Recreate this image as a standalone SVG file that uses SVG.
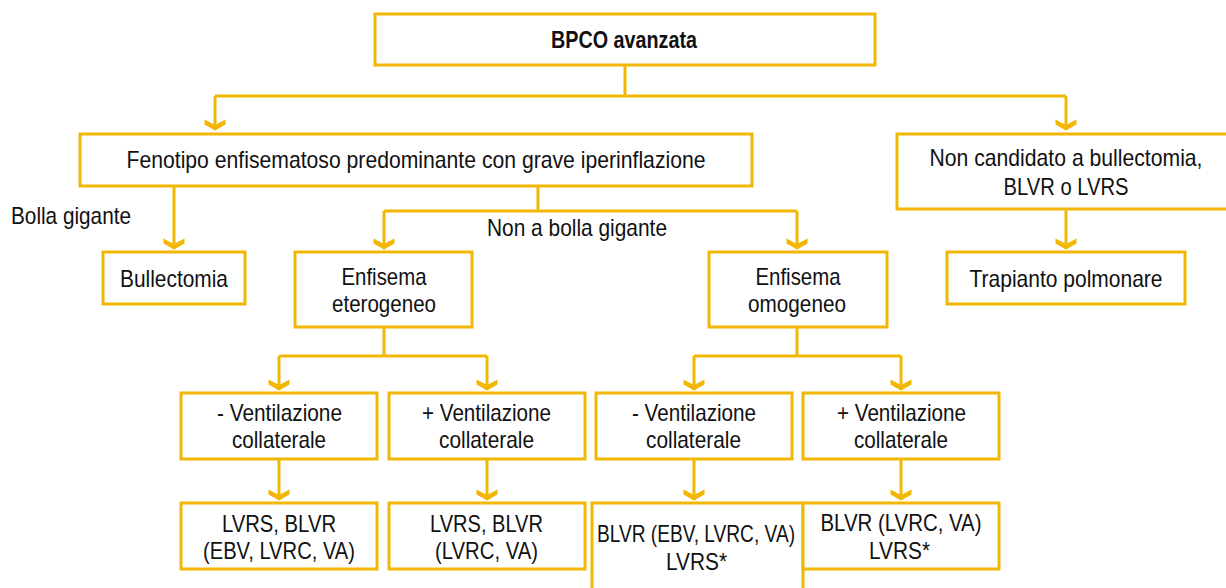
<svg xmlns="http://www.w3.org/2000/svg" width="1226" height="588" viewBox="0 0 1226 588">
<style>
.box{fill:#fff;stroke:#F2B705;stroke-width:3}
.ln{fill:none;stroke:#F2B705;stroke-width:3}
text{font-family:"Liberation Sans",Arial,sans-serif;font-size:24px;fill:#111}
.c{text-anchor:middle}
.b{font-weight:bold;font-size:24px}
</style>
<defs>
<marker id="ah" viewBox="-11 -11 22 12" markerWidth="22" markerHeight="12" refX="0" refY="0" orient="0" markerUnits="userSpaceOnUse">
<path d="M-10.5,-10.5 L0,-5 L10.5,-10.5 L10.5,-5.5 L0,0.5 L-10.5,-5.5 Z" fill="#F2B705"/>
</marker>
</defs>
<rect width="1226" height="588" fill="#fff"/>
<g id="connectors">
<path class="ln" d="M625,65 V96 M215,96 H1066"/>
<path class="ln" d="M215,96 V130" marker-end="url(#ah)"/>
<path class="ln" d="M1066,96 V130" marker-end="url(#ah)"/>
<path class="ln" d="M174,186 V249" marker-end="url(#ah)"/>
<path class="ln" d="M538,186 V211 M384,211 H797"/>
<path class="ln" d="M384,211 V249" marker-end="url(#ah)"/>
<path class="ln" d="M797,211 V249" marker-end="url(#ah)"/>
<path class="ln" d="M1066,209 V249" marker-end="url(#ah)"/>
<path class="ln" d="M384,327 V356 M279,356 H487"/>
<path class="ln" d="M279,356 V390" marker-end="url(#ah)"/>
<path class="ln" d="M487,356 V390" marker-end="url(#ah)"/>
<path class="ln" d="M797,327 V356 M694,356 H901"/>
<path class="ln" d="M694,356 V390" marker-end="url(#ah)"/>
<path class="ln" d="M901,356 V390" marker-end="url(#ah)"/>
<path class="ln" d="M279,459 V500" marker-end="url(#ah)"/>
<path class="ln" d="M487,459 V500" marker-end="url(#ah)"/>
<path class="ln" d="M694,459 V500" marker-end="url(#ah)"/>
<path class="ln" d="M901,459 V500" marker-end="url(#ah)"/>
</g>
<g id="n-bpco">
<rect class="box" x="375" y="14" width="500" height="51"/>
<text class="c b" x="624" y="48" textLength="146" lengthAdjust="spacingAndGlyphs">BPCO avanzata</text>
</g>
<g id="n-fenotipo">
<rect class="box" x="80" y="134" width="672" height="52"/>
<text class="c" x="416" y="168" textLength="579" lengthAdjust="spacingAndGlyphs">Fenotipo enfisematoso predominante con grave iperinflazione</text>
</g>
<g id="n-noncandidato">
<path class="box" d="M1226,134 H897 V209 H1226"/>
<text class="c" x="1066" y="166" textLength="273" lengthAdjust="spacingAndGlyphs">Non candidato a bullectomia,</text>
<text class="c" x="1066" y="195" textLength="125" lengthAdjust="spacingAndGlyphs">BLVR o LVRS</text>
</g>
<g id="l-bolla">
<text x="11" y="224" textLength="120" lengthAdjust="spacingAndGlyphs">Bolla gigante</text>
</g>
<g id="l-nonbolla">
<text x="487" y="236" textLength="180" lengthAdjust="spacingAndGlyphs">Non a bolla gigante</text>
</g>
<g id="n-bullectomia">
<rect class="box" x="103" y="252" width="142" height="52"/>
<text class="c" x="174" y="287" textLength="108" lengthAdjust="spacingAndGlyphs">Bullectomia</text>
</g>
<g id="n-eterogeneo">
<rect class="box" x="295" y="252" width="177" height="75"/>
<text class="c" x="384" y="285" textLength="85" lengthAdjust="spacingAndGlyphs">Enfisema</text>
<text class="c" x="384" y="312" textLength="104" lengthAdjust="spacingAndGlyphs">eterogeneo</text>
</g>
<g id="n-omogeneo">
<rect class="box" x="709" y="252" width="178" height="75"/>
<text class="c" x="798" y="285" textLength="85" lengthAdjust="spacingAndGlyphs">Enfisema</text>
<text class="c" x="797" y="312" textLength="98" lengthAdjust="spacingAndGlyphs">omogeneo</text>
</g>
<g id="n-trapianto">
<rect class="box" x="947" y="252" width="238" height="52"/>
<text class="c" x="1066" y="287" textLength="193" lengthAdjust="spacingAndGlyphs">Trapianto polmonare</text>
</g>
<g id="n-et-neg">
<rect class="box" x="181" y="393" width="196" height="66"/>
<text class="c" x="279.5" y="421" textLength="125" lengthAdjust="spacingAndGlyphs">- Ventilazione</text>
<text class="c" x="279" y="448" textLength="94" lengthAdjust="spacingAndGlyphs">collaterale</text>
</g>
<g id="n-et-pos">
<rect class="box" x="389" y="393" width="196" height="66"/>
<text class="c" x="486.5" y="421" textLength="129" lengthAdjust="spacingAndGlyphs">+ Ventilazione</text>
<text class="c" x="486.5" y="448" textLength="95" lengthAdjust="spacingAndGlyphs">collaterale</text>
</g>
<g id="n-om-neg">
<rect class="box" x="596" y="393" width="196" height="66"/>
<text class="c" x="694" y="421" textLength="124" lengthAdjust="spacingAndGlyphs">- Ventilazione</text>
<text class="c" x="693.5" y="448" textLength="95" lengthAdjust="spacingAndGlyphs">collaterale</text>
</g>
<g id="n-om-pos">
<rect class="box" x="803" y="393" width="196" height="66"/>
<text class="c" x="901.5" y="421" textLength="129" lengthAdjust="spacingAndGlyphs">+ Ventilazione</text>
<text class="c" x="901" y="448" textLength="94" lengthAdjust="spacingAndGlyphs">collaterale</text>
</g>
<g id="n-et-neg-tx">
<rect class="box" x="181" y="503" width="196" height="66"/>
<text class="c" x="279" y="532" textLength="114" lengthAdjust="spacingAndGlyphs">LVRS, BLVR</text>
<text class="c" x="279" y="559" textLength="152" lengthAdjust="spacingAndGlyphs">(EBV, LVRC, VA)</text>
</g>
<g id="n-et-pos-tx">
<rect class="box" x="389" y="503" width="196" height="66"/>
<text class="c" x="486.5" y="532" textLength="113" lengthAdjust="spacingAndGlyphs">LVRS, BLVR</text>
<text class="c" x="486.5" y="559" textLength="103" lengthAdjust="spacingAndGlyphs">(LVRC, VA)</text>
</g>
<g id="n-om-neg-tx">
<path class="box" d="M592,588 V503 H803 V588"/>
<text class="c" x="696" y="542" textLength="198" lengthAdjust="spacingAndGlyphs">BLVR (EBV, LVRC, VA)</text>
<text class="c" x="696.5" y="570" textLength="61" lengthAdjust="spacingAndGlyphs">LVRS*</text>
</g>
<g id="n-om-pos-tx">
<rect class="box" x="803" y="503" width="196" height="66"/>
<text class="c" x="901" y="531" textLength="161" lengthAdjust="spacingAndGlyphs">BLVR (LVRC, VA)</text>
<text class="c" x="899.5" y="559" textLength="61" lengthAdjust="spacingAndGlyphs">LVRS*</text>
</g>
</svg>
